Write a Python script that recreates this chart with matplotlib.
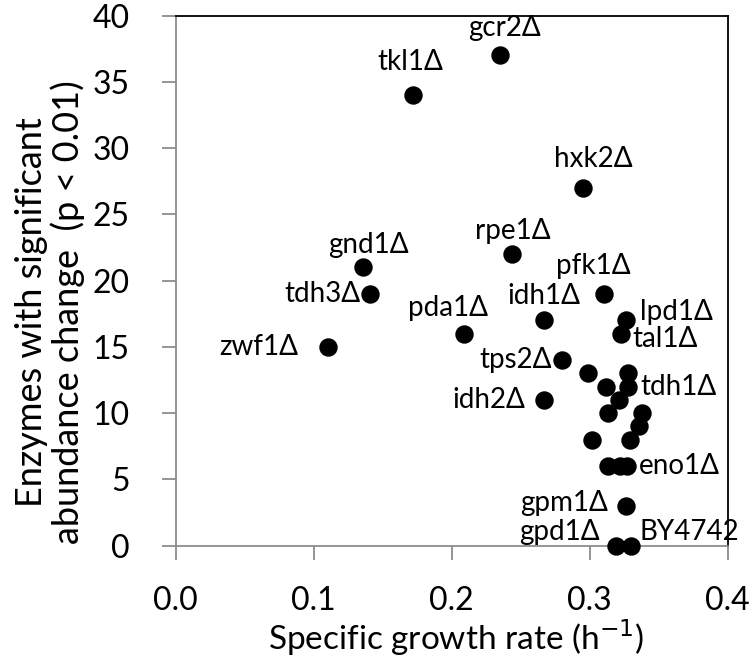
import matplotlib
matplotlib.use("Agg")
import matplotlib.pyplot as plt
from matplotlib.ticker import MultipleLocator, FormatStrFormatter

plt.rcParams['font.family'] = ['Lato', 'DejaVu Sans']

# growth rate (h-1) and number of enzymes changed
names = ['gcr2Δ', 'tkl1Δ', 'hxk2Δ', 'rpe1Δ', 'pfk1Δ', 'gnd1Δ', 'tdh3Δ', 'idh1Δ',
         'pda1Δ', 'lpd1Δ', 'tal1Δ', 'zwf1Δ', 'tps2Δ', 'tdh1Δ', 'idh2Δ',
         'eno1Δ', 'gpm1Δ', 'gpd1Δ', 'BY4742']
growth = [0.235, 0.172, 0.295, 0.244, 0.310, 0.136, 0.141, 0.267,
          0.209, 0.326, 0.323, 0.110, 0.280, 0.328, 0.267,
          0.327, 0.326, 0.319, 0.330]
enzymes = [37, 34, 27, 22, 19, 21, 19, 17,
           16, 17, 16, 15, 14, 12, 11,
           6, 3, 0, 0]

# unlabelled strains
other_growth = [0.299, 0.328, 0.312, 0.321, 0.338, 0.3135, 0.336, 0.302, 0.329, 0.3135, 0.322]
other_enzymes = [13, 13, 12, 11, 10, 10, 9, 8, 8, 6, 6]

# label placement: (dx, dy) in pixels from the dot, horizontal alignment
label_pos = {
    'gcr2Δ': (4, 27, 'center'), 'tkl1Δ': (-3, 33, 'center'),
    'hxk2Δ': (10, 29, 'center'), 'rpe1Δ': (0, 23, 'center'),
    'pfk1Δ': (-10, 28, 'center'), 'gnd1Δ': (5, 22, 'center'),
    'tdh3Δ': (-10, 0, 'right'), 'idh1Δ': (0, 24, 'center'),
    'pda1Δ': (-16, 26, 'center'), 'lpd1Δ': (14, 8, 'left'),
    'tal1Δ': (11, -5, 'left'), 'zwf1Δ': (-29, 0, 'right'),
    'tps2Δ': (-10, 0, 'right'), 'tdh1Δ': (12, 0, 'left'),
    'idh2Δ': (-19, 0, 'right'), 'eno1Δ': (12, 0, 'left'),
    'gpm1Δ': (-18, 3, 'right'), 'gpd1Δ': (-16, 14, 'right'),
    'BY4742': (8, 14, 'left'),
}

fig = plt.figure(figsize=(7.5, 6.61), dpi=100)
ax = fig.add_axes([0.2343, 0.1744, 0.736, 0.8018])

ax.scatter(growth, enzymes, s=150, color='black', zorder=3, clip_on=False)
ax.scatter(other_growth, other_enzymes, s=150, color='black', zorder=3, clip_on=False)

for n, x, y in zip(names, growth, enzymes):
    dx, dy, ha = label_pos[n]
    ax.annotate(n, (x, y), xytext=(dx, dy), textcoords='offset pixels',
                ha=ha, va='center', fontsize=20)

ax.set_xlim(0, 0.4)
ax.set_ylim(0, 40)
ax.xaxis.set_major_locator(MultipleLocator(0.1))
ax.xaxis.set_major_formatter(FormatStrFormatter('%.1f'))
ax.yaxis.set_major_locator(MultipleLocator(5))

for side in ['left', 'bottom']:
    ax.spines[side].set_color('#8c8c8c')
    ax.spines[side].set_linewidth(1.3)
for side in ['top', 'right']:
    ax.spines[side].set_color('black')
    ax.spines[side].set_linewidth(1.3)

ax.tick_params(axis='both', direction='out', length=10, width=1.3, color='#8c8c8c',
               labelsize=23)
ax.tick_params(axis='x', pad=19)
ax.tick_params(axis='y', pad=23)

fig.text(456 / 750, 1 - 638 / 661, 'Specific growth rate (h$^{-1}$)', fontsize=24,
         ha='center', va='center')
fig.text(50 / 750, 1 - 312 / 661, 'Enzymes with significant\nabundance change  (p < 0.01)',
         fontsize=26, rotation=90, ha='center', va='center', multialignment='center',
         linespacing=1.05)

fig.savefig('out.png', dpi=100)
